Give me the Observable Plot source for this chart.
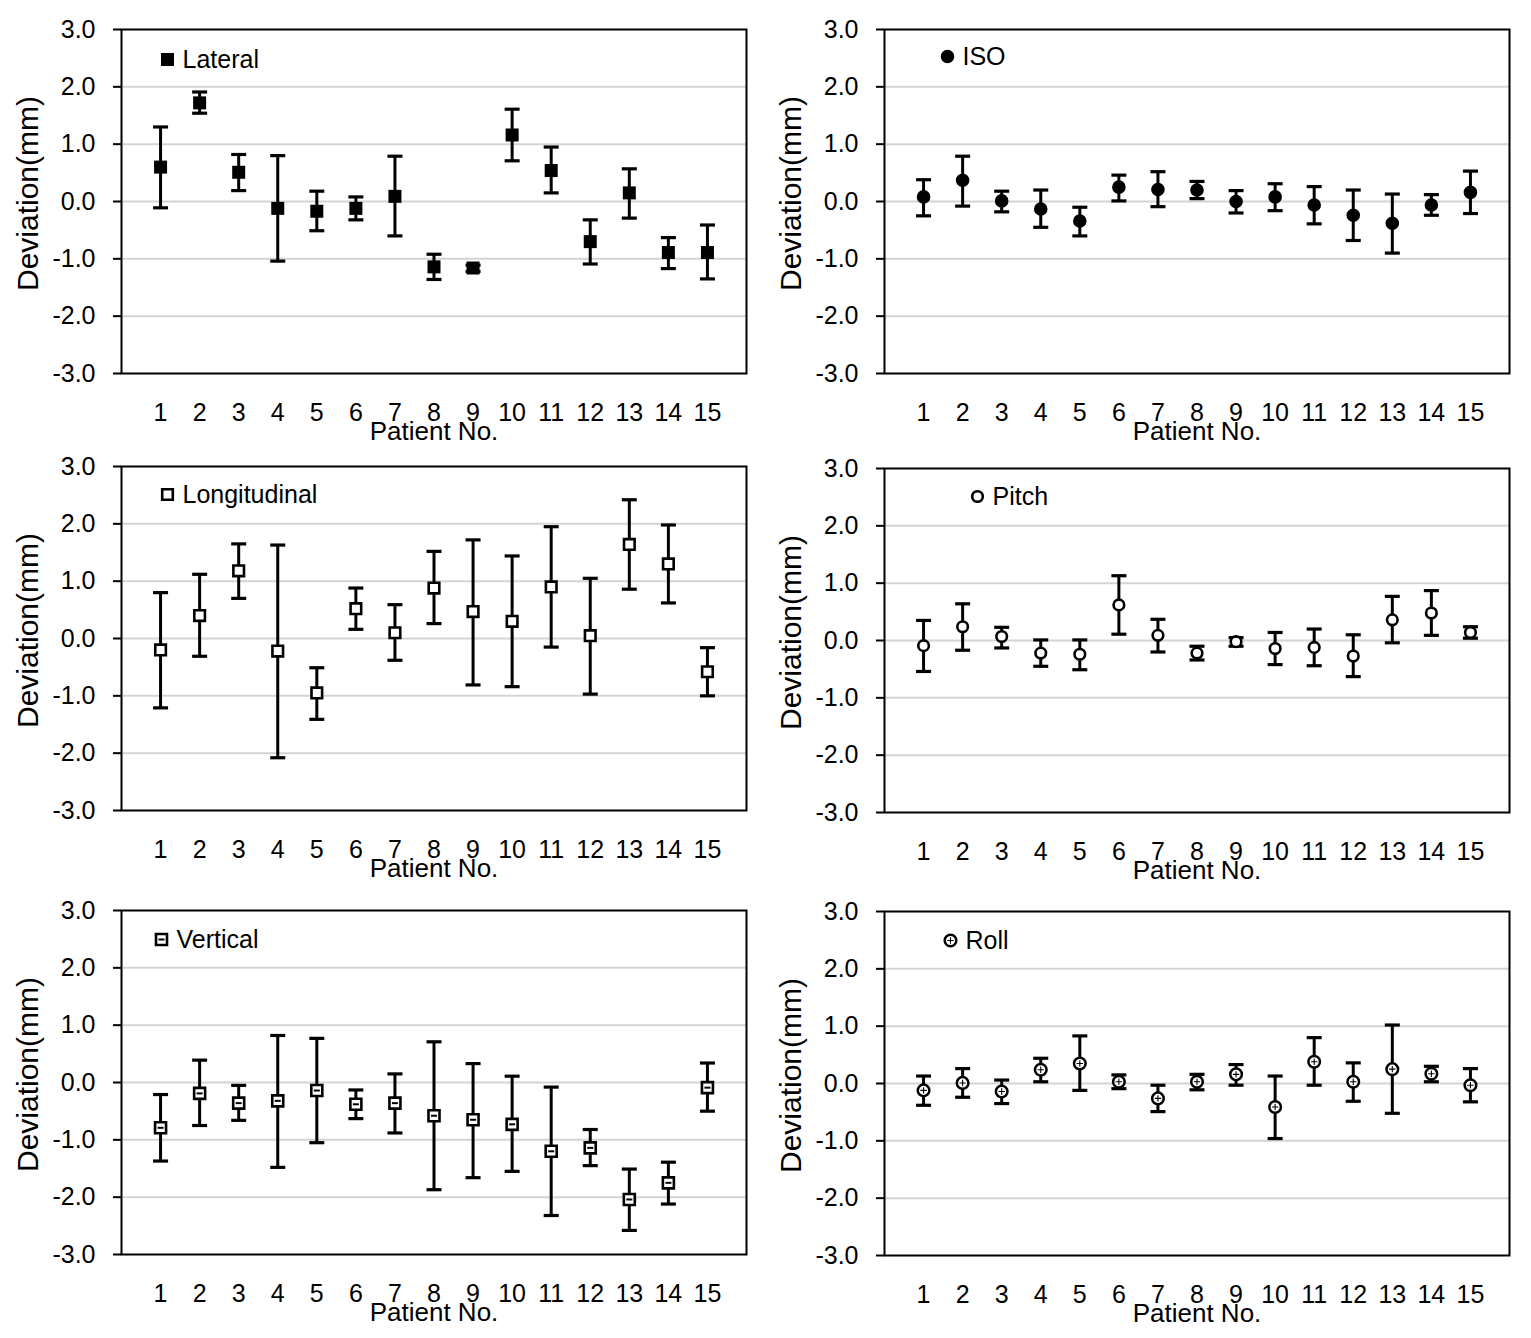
<!DOCTYPE html>
<html><head><meta charset="utf-8">
<script src="https://cdn.jsdelivr.net/npm/d3@7"></script>
<script src="https://cdn.jsdelivr.net/npm/@observablehq/plot@0.6"></script>
<style>
body{margin:0;background:#fff;font-family:"Liberation Sans",Arial,sans-serif;}
#wrap{position:relative;width:1531px;height:1338px;overflow:hidden;}
.panel{position:absolute;}
</style></head><body><div id="wrap"></div>
<script>
const patients = [1,2,3,4,5,6,7,8,9,10,11,12,13,14,15];
const yTicks = [-3,-2,-1,0,1,2,3];
const gridValues = [-2,-1,0,1,2];
const yTitle = "Deviation(mm)";
const xTitle = "Patient No.";

const lateralMean = [0.60,1.72,0.51,-0.12,-0.17,-0.12,0.09,-1.14,-1.16,1.16,0.54,-0.70,0.15,-0.89,-0.89];
const lateralHigh = [1.30,1.91,0.82,0.80,0.18,0.08,0.79,-0.92,-1.11,1.61,0.95,-0.32,0.57,-0.63,-0.41];
const lateralLow  = [-0.11,1.54,0.19,-1.04,-0.51,-0.32,-0.60,-1.36,-1.22,0.71,0.15,-1.09,-0.29,-1.17,-1.35];

const isoMean = [0.08,0.37,0.01,-0.13,-0.34,0.25,0.21,0.20,0.00,0.08,-0.06,-0.24,-0.38,-0.06,0.16];
const isoHigh = [0.38,0.79,0.18,0.20,-0.10,0.46,0.52,0.35,0.19,0.31,0.26,0.20,0.13,0.12,0.53];
const isoLow  = [-0.25,-0.08,-0.18,-0.45,-0.60,0.01,-0.09,0.05,-0.20,-0.16,-0.39,-0.68,-0.90,-0.24,-0.21];

const longMean = [-0.20,0.40,1.18,-0.22,-0.95,0.52,0.10,0.88,0.47,0.30,0.90,0.05,1.64,1.30,-0.58];
const longHigh = [0.80,1.12,1.65,1.63,-0.51,0.88,0.59,1.52,1.72,1.44,1.95,1.05,2.42,1.98,-0.16];
const longLow  = [-1.21,-0.31,0.70,-2.08,-1.41,0.16,-0.38,0.26,-0.81,-0.84,-0.15,-0.97,0.86,0.62,-1.00];

const pitchMean = [-0.09,0.24,0.07,-0.22,-0.24,0.62,0.09,-0.22,-0.02,-0.14,-0.12,-0.27,0.36,0.48,0.14];
const pitchHigh = [0.35,0.64,0.23,0.01,0.01,1.13,0.37,-0.10,0.05,0.14,0.20,0.10,0.77,0.87,0.24];
const pitchLow  = [-0.54,-0.17,-0.13,-0.45,-0.51,0.11,-0.20,-0.34,-0.10,-0.42,-0.44,-0.63,-0.04,0.09,0.04];

const vertMean = [-0.79,-0.19,-0.36,-0.32,-0.14,-0.38,-0.36,-0.58,-0.65,-0.73,-1.20,-1.14,-2.04,-1.75,-0.09];
const vertHigh = [-0.21,0.39,-0.05,0.82,0.77,-0.13,0.15,0.71,0.33,0.11,-0.08,-0.82,-1.51,-1.39,0.34];
const vertLow  = [-1.37,-0.75,-0.66,-1.48,-1.05,-0.63,-0.88,-1.87,-1.66,-1.55,-2.32,-1.45,-2.58,-2.12,-0.50];

const rollMean = [-0.12,0.01,-0.14,0.24,0.35,0.03,-0.26,0.03,0.16,-0.41,0.38,0.03,0.25,0.17,-0.03];
const rollHigh = [0.13,0.26,0.06,0.44,0.83,0.15,-0.03,0.16,0.33,0.13,0.80,0.36,1.02,0.30,0.26];
const rollLow  = [-0.38,-0.24,-0.35,0.03,-0.12,-0.09,-0.49,-0.11,-0.03,-0.96,-0.03,-0.31,-0.52,0.03,-0.32];

// custom symbols (size = pi r^2)
const rad = s => Math.sqrt(s / Math.PI);
const symSquare = {draw(c, s){ const r = rad(s); c.rect(-r,-r,2*r,2*r); }};
const symCircle = {draw(c, s){ const r = rad(s); c.moveTo(r,0); c.arc(0,0,r,0,2*Math.PI); }};
const symDash = {draw(c, s){ const r = rad(s); c.moveTo(-r,0); c.lineTo(r,0); }};
const symPlus = {draw(c, s){ const r = rad(s); c.moveTo(-r,0); c.lineTo(r,0); c.moveTo(0,-r); c.lineTo(0,r); }};

const markerStyles = {
  lateral: [{symbol: symSquare, r: 6.5, fill: "black", stroke: "none"}],
  iso: [{symbol: symCircle, r: 6.8, fill: "black", stroke: "none"}],
  long: [{symbol: symSquare, r: 5.3, fill: "white", stroke: "black", strokeWidth: 2.6}],
  pitch: [{symbol: symCircle, r: 5.3, fill: "white", stroke: "black", strokeWidth: 2.6}],
  vert: [{symbol: symSquare, r: 5.5, fill: "white", stroke: "black", strokeWidth: 2.6},
         {symbol: symDash, r: 3, fill: "none", stroke: "black", strokeWidth: 2}],
  roll: [{symbol: symCircle, r: 5.8, fill: "white", stroke: "black", strokeWidth: 2.5},
         {symbol: symPlus, r: 3.2, fill: "none", stroke: "black", strokeWidth: 1.1}]
};

const panels = [
  {name: "Lateral", key: "lateral", mean: lateralMean, lo: lateralLow, hi: lateralHigh, left: 0, top: 0, lx: 46, ly: 30},
  {name: "ISO", key: "iso", mean: isoMean, lo: isoLow, hi: isoHigh, left: 763, top: 0, lx: 63, ly: 27},
  {name: "Longitudinal", key: "long", mean: longMean, lo: longLow, hi: longHigh, left: 0, top: 437, lx: 46, ly: 28},
  {name: "Pitch", key: "pitch", mean: pitchMean, lo: pitchLow, hi: pitchHigh, left: 763, top: 439, lx: 93, ly: 28},
  {name: "Vertical", key: "vert", mean: vertMean, lo: vertLow, hi: vertHigh, left: 0, top: 881, lx: 40, ly: 29},
  {name: "Roll", key: "roll", mean: rollMean, lo: rollLow, hi: rollHigh, left: 763, top: 882, lx: 66, ly: 29}
];

const wrap = document.getElementById("wrap");
for (const p of panels) {
  const data = patients.map((pt, i) => ({pt, m: p.mean[i], lo: p.lo[i], hi: p.hi[i]}));
  const styles = markerStyles[p.key];
  const chart = Plot.plot({
    width: 765, height: 450,
    marginLeft: 121, marginRight: 19, marginTop: 29, marginBottom: 77,
    style: {background: "transparent", overflow: "visible", fontFamily: "'Liberation Sans', Arial, sans-serif"},
    x: {domain: [0, 16], axis: null},
    y: {domain: [-3, 3], axis: null},
    marks: [
      Plot.ruleY(gridValues, {stroke: "#d4d4d4", strokeWidth: 2}),
      Plot.frame({stroke: "black", strokeWidth: 2}),
      Plot.axisY({ticks: yTicks, tickFormat: d => d.toFixed(1), tickSize: 8, tickPadding: 18,
                  fontSize: 25, stroke: "black", strokeWidth: 2, fill: "black", label: null}),
      Plot.axisX({ticks: patients, tickFormat: d => String(d), tickSize: 0, tickPadding: 30,
                  fontSize: 25, fill: "black", label: null}),
      Plot.text([yTitle], {frameAnchor: "left", dx: -93, dy: -8, rotate: -90, textAnchor: "middle",
                           lineAnchor: "middle", fontSize: 30, fill: "black"}),
      Plot.text([xTitle], {frameAnchor: "bottom", dy: 58, lineAnchor: "middle", fontSize: 26, fill: "black"}),
      Plot.ruleX(data, {x: "pt", y1: "lo", y2: "hi", stroke: "black", strokeWidth: 3}),
      Plot.dot(data, {x: "pt", y: "hi", symbol: symDash, r: 7.5, stroke: "black", strokeWidth: 3.2, fill: "none"}),
      Plot.dot(data, {x: "pt", y: "lo", symbol: symDash, r: 7.5, stroke: "black", strokeWidth: 3.2, fill: "none"}),
      ...styles.map(s => Plot.dot(data, {x: "pt", y: "m", ...s})),
      ...styles.map(s => Plot.dot([p.name], {frameAnchor: "top-left", dx: p.lx, dy: p.ly, ...s})),
      Plot.text([p.name], {frameAnchor: "top-left", dx: p.lx + 15, dy: p.ly, textAnchor: "start",
                           lineAnchor: "middle", fontSize: 25, fill: "black"})
    ]
  });
  chart.classList.add("panel");
  chart.style.left = p.left + "px";
  chart.style.top = p.top + "px";
  wrap.appendChild(chart);
}
</script></body></html>
